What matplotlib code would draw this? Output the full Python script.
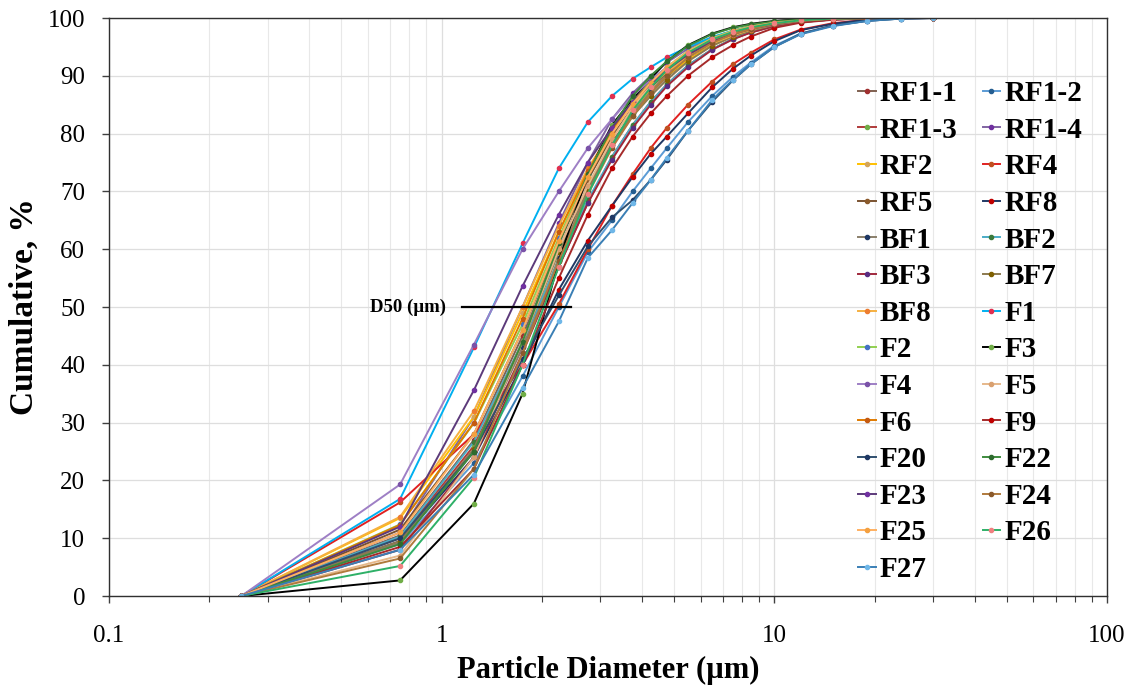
import matplotlib
matplotlib.use('Agg')
import matplotlib.pyplot as plt
from matplotlib.ticker import LogLocator, FixedLocator, NullFormatter

plt.rcParams['font.family'] = ['Liberation Serif', 'DejaVu Serif']

# particle diameter (um) where the cumulative values were read
diam = [0.25, 0.75, 1.25, 1.75, 2.25, 2.75, 3.25, 3.75, 4.25, 4.75,
        5.5, 6.5, 7.5, 8.5, 10, 12, 15, 19, 24, 30]

# cumulative passing, %
RF1_1 = [0, 10.5, 27, 45, 60, 71, 78.5, 83.5, 87, 89.8, 92.8, 95.3, 96.8, 97.8, 98.8, 99.4, 99.8, 99.95, 100, 100]
RF1_2 = [0, 9, 23, 38, 50, 59.5, 65, 70, 74, 77.5, 82, 86.5, 89.8, 92.3, 95.2, 97.3, 98.7, 99.5, 99.9, 100]
RF1_3 = [0, 10, 26, 43, 57, 68, 76, 81.5, 85.5, 88.5, 91.8, 94.6, 96.4, 97.5, 98.6, 99.3, 99.75, 99.95, 100, 100]
RF1_4 = [0, 11, 31, 50, 64.5, 75, 82.5, 87, 90, 92.3, 94.7, 96.6, 97.8, 98.6, 99.3, 99.7, 99.9, 100, 100, 100]
RF2 = [0, 13.5, 31, 49, 63, 73, 79.5, 84, 87.5, 90, 92.8, 95.2, 96.8, 97.8, 98.8, 99.5, 99.85, 99.95, 100, 100]
RF4 = [0, 16.2, 28, 40, 50.5, 60, 67.5, 73, 77.5, 81, 85, 89, 92, 94, 96.3, 98, 99.1, 99.7, 99.95, 100]
RF5 = [0, 11.5, 28, 46, 61, 72, 79.5, 84.5, 88, 90.5, 93.4, 95.8, 97.2, 98.1, 98.9, 99.5, 99.85, 99.95, 100, 100]
RF8 = [0, 9.5, 24, 40, 53, 61.5, 67.5, 72.5, 76.5, 79.5, 83.5, 88, 91.2, 93.5, 96, 97.9, 99, 99.7, 99.95, 100]
BF1 = [0, 9.2, 25, 43, 58.5, 70, 78, 83.5, 87.3, 90.2, 93.2, 95.7, 97.2, 98.1, 98.9, 99.5, 99.85, 99.95, 100, 100]
BF2 = [0, 10.3, 26.7, 44, 58, 68.5, 76, 81.5, 85.5, 88.5, 91.8, 94.6, 96.4, 97.6, 98.6, 99.3, 99.75, 99.95, 100, 100]
BF3 = [0, 8, 24, 42, 57, 68, 75.5, 81, 85, 88.2, 91.5, 94.5, 96.3, 97.5, 98.6, 99.3, 99.75, 99.95, 100, 100]
BF7 = [0, 9.5, 25.5, 44, 59.5, 70.5, 78, 83, 86.5, 89.3, 92.5, 95.2, 96.8, 97.8, 98.8, 99.4, 99.8, 99.95, 100, 100]
BF8 = [0, 13.7, 32, 50, 64, 74, 80.5, 85, 88.3, 90.7, 93.3, 95.6, 97, 98, 98.9, 99.5, 99.85, 99.95, 100, 100]
F1 = [0, 16.8, 43, 61, 74, 82, 86.5, 89.5, 91.5, 93.2, 95, 96.7, 97.8, 98.5, 99.2, 99.7, 99.9, 100, 100, 100]
F2 = [0, 12.4, 29.9, 47, 62, 73, 80.5, 85.5, 89, 91.5, 94.3, 96.5, 97.8, 98.6, 99.3, 99.7, 99.9, 100, 100, 100]
F3 = [0, 2.7, 16, 35, 58, 73, 81.5, 86, 89.5, 92.5, 95.3, 97.3, 98.4, 99, 99.5, 99.8, 99.95, 100, 100, 100]
F4 = [0, 19.3, 43.5, 60, 70, 77.5, 82.5, 86.5, 89.3, 91.5, 94, 96, 97.3, 98.2, 99, 99.6, 99.9, 100, 100, 100]
F5 = [0, 7, 24, 44, 60, 71, 79, 84.5, 88.3, 91, 93.8, 96.1, 97.5, 98.4, 99.1, 99.6, 99.9, 100, 100, 100]
F6 = [0, 12.3, 30, 48, 63, 73.5, 80.5, 85.5, 88.8, 91.3, 94, 96.2, 97.5, 98.3, 99.1, 99.6, 99.9, 100, 100, 100]
F9 = [0, 8.5, 22, 40, 55, 66, 74, 79.5, 83.5, 86.5, 90, 93.2, 95.3, 96.8, 98.3, 99.2, 99.7, 99.9, 100, 100]
F20 = [0, 10, 25, 41, 52, 60.5, 65.5, 68.5, 72, 75.5, 80.5, 85.5, 89.2, 92, 95, 97.3, 98.7, 99.5, 99.9, 100]
F22 = [0, 9, 25, 44, 61, 73, 81, 86.5, 90, 92.5, 95.2, 97.2, 98.3, 98.9, 99.4, 99.75, 99.9, 100, 100, 100]
F23 = [0, 12, 35.6, 53.6, 66, 75, 81, 85.5, 88.6, 91, 93.7, 95.9, 97.2, 98.1, 98.9, 99.5, 99.85, 100, 100, 100]
F24 = [0, 6.5, 22, 42, 58, 69.5, 77.5, 83, 87, 90, 93.2, 95.7, 97.2, 98.1, 99, 99.5, 99.85, 99.95, 100, 100]
F25 = [0, 11, 28, 46, 61.5, 72.5, 80, 85.2, 88.8, 91.5, 94.2, 96.4, 97.7, 98.5, 99.2, 99.6, 99.9, 100, 100, 100]
F26 = [0, 5.2, 20.5, 40, 57, 69.5, 78, 84, 88, 91, 94, 96.3, 97.6, 98.4, 99.1, 99.6, 99.9, 100, 100, 100]
F27 = [0, 8, 21, 36, 47.5, 58.5, 63.3, 68, 72, 75.8, 80.5, 85.8, 89.3, 92, 95, 97.2, 98.6, 99.5, 99.9, 100]

# (label, values, line colour, marker colour) -- order as in the legend, row by row
series = [
    ('RF1-1', RF1_1, '#7f6050', '#a03030'), ('RF1-2', RF1_2, '#5b9bd5', '#255e91'),
    ('RF1-3', RF1_3, '#b03a3a', '#70ad47'), ('RF1-4', RF1_4, '#8064a2', '#7030a0'),
    ('RF2', RF2, '#ffc000', '#d4a55a'), ('RF4', RF4, '#e02020', '#c05020'),
    ('RF5', RF5, '#7a5230', '#8b5a2b'), ('RF8', RF8, '#203864', '#c00000'),
    ('BF1', BF1, '#8a7f6a', '#1f3864'), ('BF2', BF2, '#4bacc6', '#3c7a3c'),
    ('BF3', BF3, '#a0283c', '#5a2d82'), ('BF7', BF7, '#8c7a50', '#7f6000'),
    ('BF8', BF8, '#f5b041', '#ed7d31'), ('F1', F1, '#00b0f0', '#e03050'),
    ('F2', F2, '#92d050', '#4472c4'), ('F3', F3, '#000000', '#70ad47'),
    ('F4', F4, '#9e7fc5', '#7a52a8'), ('F5', F5, '#e6b88a', '#d9a070'),
    ('F6', F6, '#e07b00', '#c55a11'), ('F9', F9, '#a52a2a', '#c00000'),
    ('F20', F20, '#2f4f6f', '#1f3864'), ('F22', F22, '#3d8b3d', '#2e6b2e'),
    ('F23', F23, '#5c3a7a', '#7030a0'), ('F24', F24, '#b07a3c', '#8b5a2b'),
    ('F25', F25, '#ffb060', '#f4a040'), ('F26', F26, '#2eb067', '#f08080'),
    ('F27', F27, '#3a7fb5', '#6fb7e8'),
]

fig = plt.figure(figsize=(11.42, 6.9), dpi=100)
ax = fig.add_axes([0.0954, 0.1362, 0.874, 0.8377])

lines = {}
for name, vals, lc, mc in series:
    ln, = ax.plot(diam, vals, color=lc, lw=1.4, marker='o', ms=3,
                  mfc=mc, mec=mc, label=name)
    lines[name] = ln

# D50 marker line and label
ax.plot([1.15, 2.45], [50, 50], color='black', lw=1.6)
ax.text(1.03, 50, 'D50 (\u00b5m)', ha='right', va='center',
        fontsize=13.5, fontweight='bold')

ax.set_xscale('log')
ax.set_xlim(0.1, 100)
ax.set_ylim(0, 100)
ax.set_yticks(range(0, 101, 10))
ax.xaxis.set_major_locator(FixedLocator([0.1, 1, 10, 100]))
ax.set_xticklabels(['0.1', '1', '10', '100'])
ax.xaxis.set_minor_locator(LogLocator(base=10, subs=range(2, 10)))
ax.xaxis.set_minor_formatter(NullFormatter())
ax.tick_params(axis='both', which='major', direction='out', length=5,
               width=1, labelsize=18, color='#404040')
ax.tick_params(axis='x', which='minor', direction='out', length=4,
               width=0.8, color='#404040')
ax.tick_params(axis='x', which='major', pad=16)
ax.tick_params(axis='y', which='major', pad=12)

ax.grid(True, which='major', color='#dedede', lw=0.9)
ax.grid(True, which='minor', axis='x', color='#e8e8e8', lw=0.8)
ax.set_axisbelow(True)
for sp in ax.spines.values():
    sp.set_color('#303030')
    sp.set_linewidth(1)

ax.set_xlabel('Particle Diameter (\u00b5m)', fontsize=22, fontweight='bold', labelpad=6)
ax.set_ylabel('Cumulative, %', fontsize=24, fontweight='bold', labelpad=6)

# legend fills column by column, so reorder the row-wise list
names = [s[0] for s in series]
order = names[0::2] + names[1::2]
leg = ax.legend([lines[n] for n in order], order, ncol=2, loc='upper left',
                bbox_to_anchor=(858 / 1142, 1 - 80 / 690),
                bbox_transform=fig.transFigure, frameon=False,
                prop={'size': 21, 'weight': 'bold'}, handlelength=0.6,
                handletextpad=0.15, labelspacing=0.33, columnspacing=0.85,
                borderpad=0, borderaxespad=0)

fig.savefig('out.png', dpi=100)
